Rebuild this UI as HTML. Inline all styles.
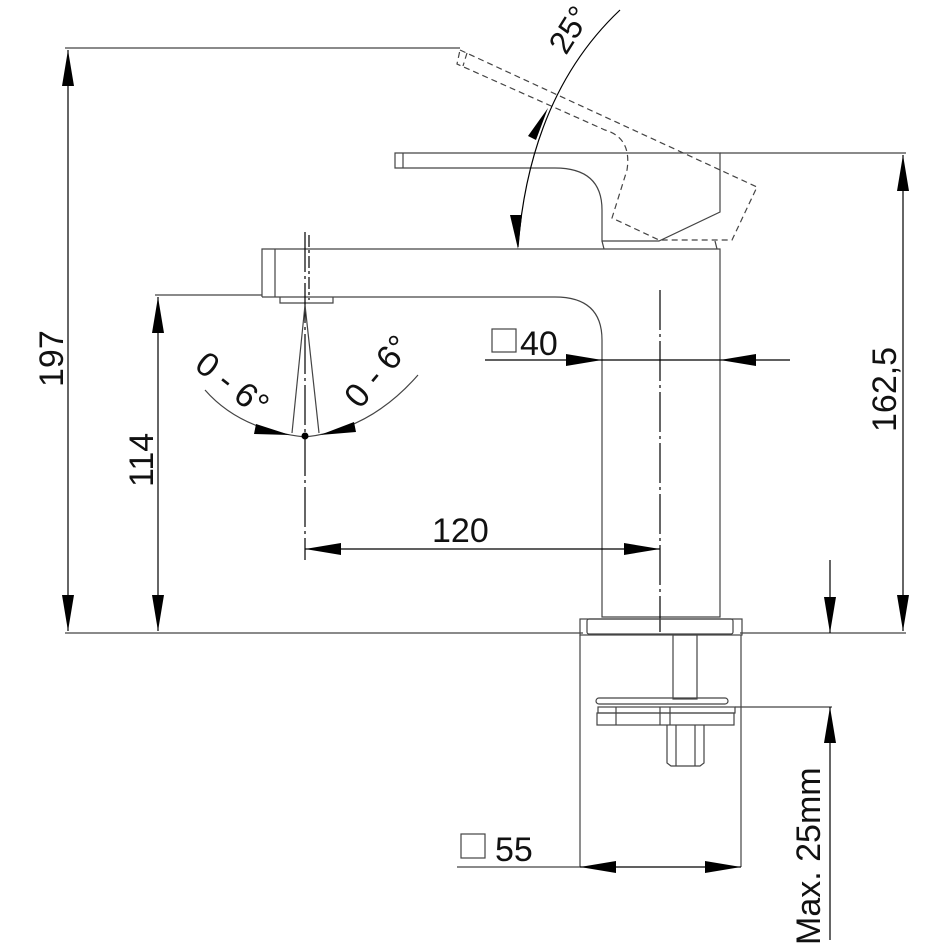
<!DOCTYPE html>
<html><head><meta charset="utf-8"><style>html,body{margin:0;padding:0;background:#fff}svg{display:block}text{font-family:"Liberation Sans",sans-serif;fill:#111}</style></head>
<body>
<svg width="945" height="945" viewBox="0 0 945 945" xmlns="http://www.w3.org/2000/svg">
<defs>
<marker id="a" viewBox="0 0 36 12" refX="36" refY="6" markerWidth="36" markerHeight="12" markerUnits="userSpaceOnUse" orient="auto-start-reverse"><path d="M0,0 L36,6 L0,12 Z" fill="#000"/></marker>
</defs>
<g stroke="#444" stroke-width="1.2" fill="none">
<line x1="65" y1="48" x2="460" y2="48"/>
<line x1="65" y1="633" x2="583" y2="633"/>
<line x1="740" y1="633" x2="906" y2="633"/>
<line x1="720" y1="153" x2="906" y2="153"/>
<line x1="155" y1="295" x2="262" y2="295"/>
<line x1="68" y1="50" x2="68" y2="631" marker-start="url(#a)" marker-end="url(#a)" stroke="#000"/>
<line x1="903" y1="155" x2="903" y2="631" marker-start="url(#a)" marker-end="url(#a)" stroke="#000"/>
<line x1="158" y1="297" x2="158" y2="631" marker-start="url(#a)" marker-end="url(#a)" stroke="#000"/>
<path d="M262,297 L262,249 L720,249 L720,617 L602,617 L602,340 Q602,297 555,297 L262,297"/>
<line x1="275" y1="249" x2="275" y2="297"/>
<path d="M280,297 L280,303 L333,303 L333,297"/>
<path d="M395,153 L720,153 L720,212 L659,241 L602,241 L602,210 Q602,168 555,168 L395,168 Z"/>
<line x1="403" y1="153" x2="403" y2="168"/>
<line x1="602" y1="241" x2="604" y2="249"/>
<line x1="715" y1="241" x2="717" y2="249"/>
<g stroke-dasharray="6,4">
<path d="M460,50 L757,187 L732,240 L659,240 L612,218 L627,170 Q632,138 605,130 L457,64 Z"/>
<line x1="467" y1="53" x2="463" y2="66"/>
</g>
<path d="M620,10 Q530,95 518,247" stroke="#000"/>
<line x1="305" y1="232" x2="305" y2="560" stroke="#000" stroke-dasharray="40,4,3,4"/>
<line x1="660" y1="290" x2="660" y2="632" stroke="#000" stroke-dasharray="40,4,3,4"/>
<line x1="309" y1="235" x2="309" y2="300" stroke="#000" stroke-dasharray="12,3,3,3"/>
<line x1="305" y1="305" x2="292" y2="433"/>
<line x1="305" y1="305" x2="319" y2="433"/>
<path d="M205,390 Q240,430 305,437 Q370,430 418,375"/>
<line x1="305" y1="549" x2="660" y2="549" marker-start="url(#a)" marker-end="url(#a)" stroke="#000"/>
<line x1="485" y1="360" x2="602" y2="360" marker-end="url(#a)" stroke="#000"/>
<line x1="790" y1="360" x2="720" y2="360" marker-end="url(#a)" stroke="#000"/>
<line x1="602" y1="360" x2="720" y2="360" stroke="#000"/>
<rect x="580" y="619" width="162" height="16"/>
<rect x="587" y="619" width="146" height="15" rx="2"/>
<line x1="580" y1="635" x2="580" y2="867"/>
<line x1="741" y1="635" x2="741" y2="867"/>
<rect x="673" y="635" width="24" height="64"/>
<rect x="596" y="698" width="132" height="6" rx="3"/>
<rect x="598" y="707" width="137" height="6"/>
<rect x="597" y="713" width="137" height="12"/>
<line x1="616" y1="707" x2="616" y2="725"/>
<line x1="660" y1="707" x2="660" y2="725"/>
<line x1="670" y1="707" x2="670" y2="725"/>
<path d="M667,725 L667,763 L671,766 L700,766 L704,763 L704,725"/>
<line x1="676" y1="725" x2="676" y2="766"/>
<line x1="695" y1="725" x2="695" y2="766"/>
<line x1="735" y1="707" x2="832" y2="707"/>
<line x1="830" y1="560" x2="830" y2="633" marker-end="url(#a)" stroke="#000"/>
<line x1="830" y1="940" x2="830" y2="707" marker-end="url(#a)" stroke="#000"/>
<line x1="457" y1="867" x2="580" y2="867"/>
<line x1="580" y1="867" x2="741" y2="867" marker-start="url(#a)" marker-end="url(#a)" stroke="#000"/>
<rect x="492" y="329" width="24" height="23"/>
<rect x="461" y="834" width="24" height="24"/>
</g>
<path d="M548,108 L536,140 L528,136 Z" fill="#000"/>
<path d="M518,249 L510,215 L522,215 Z" fill="#000"/>
<path d="M256,424 L290,435 L254,434 Z" fill="#000"/>
<path d="M354,422 L320,435 L356,432 Z" fill="#000"/>
<circle cx="305" cy="436" r="3.5" fill="#000"/>
<text x="0" y="0" font-size="34" transform="translate(63,387) rotate(-90)">197</text>
<text x="0" y="0" font-size="34" transform="translate(153,487) rotate(-90)">114</text>
<text x="0" y="0" font-size="34" transform="translate(896,432) rotate(-90)">162,5</text>
<text x="0" y="0" font-size="34" transform="translate(820,945) rotate(-90)">Max. 25mm</text>
<text x="432" y="542" font-size="34">120</text>
<text x="520" y="355" font-size="34">40</text>
<text x="495" y="861" font-size="34">55</text>
<text x="0" y="0" font-size="32" transform="translate(566,56) rotate(-58)">25°</text>
<text x="0" y="0" font-size="34" transform="translate(193,368) rotate(38)">0 - 6°</text>
<text x="0" y="0" font-size="34" transform="translate(360,410) rotate(-50)">0 - 6°</text>
</svg>
</body></html>
